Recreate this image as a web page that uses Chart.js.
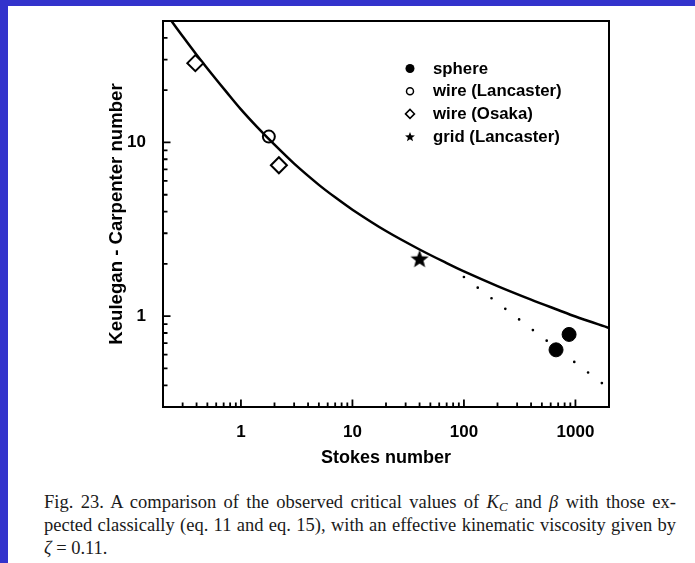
<!DOCTYPE html>
<html>
<head>
<meta charset="utf-8">
<script src="https://cdn.jsdelivr.net/npm/chart.js@4.4.1/dist/chart.umd.min.js"></script>
<style>
  html,body{margin:0;padding:0;}
  body{width:695px;height:563px;overflow:hidden;background:#3333cc;position:relative;}
  #white{position:absolute;left:8px;top:6px;right:0;bottom:0;background:#fff;}
  #wrap{position:absolute;left:0;top:0;width:695px;height:480px;}
  #cap{position:absolute;left:44px;top:491px;width:632px;font-family:"Liberation Serif","DejaVu Serif",serif;font-size:18.5px;line-height:23px;color:#1a1a1a;}
  #cap div{white-space:nowrap;}
  #cap .j{text-align:justify;text-align-last:justify;}
  sub{font-size:13px;vertical-align:-3px;line-height:0;}
</style>
</head>
<body>
<div id="white"></div>
<div id="wrap"><canvas id="c" width="695" height="480"></canvas></div>
<div id="cap">
  <div class="j">Fig. 23. A comparison of the observed critical values of <i>K<sub>C</sub></i> and <i>β</i> with those ex-</div>
  <div class="j">pected classically (eq. 11 and eq. 15), with an effective kinematic viscosity given by</div>
  <div><i>ζ</i> = 0.11.</div>
</div>
<script>
// ---- data ----
const sphereX = [670, 877];
const sphereY = [0.64, 0.785];
const wireLancX = [1.78];
const wireLancY = [10.8];
const wireOsakaX = [0.39, 2.19];
const wireOsakaY = [28.6, 7.39];
const gridLancX = [40];
const gridLancY = [2.14];
// solid "classical" curve
const curveX = [0.235, 0.3, 0.4, 0.55, 0.75, 1.0, 1.4, 2, 3, 5, 7, 10, 20, 40, 70, 100, 200, 400, 700, 1000, 2000];
const curveY = [50.6, 40.9, 32.0, 24.7, 19.35, 15.5, 12.25, 9.7, 7.55, 5.7, 4.83, 4.1, 3.09, 2.42, 2.02, 1.81, 1.49, 1.245, 1.085, 0.995, 0.855];
// dotted line
const dottedX = [100, 1750];
const dottedY = [1.68, 0.409];

const legendLabels = ['sphere', 'wire (Lancaster)', 'wire (Osaka)', 'grid (Lancaster)'];
const xTickLabels = [1, 10, 100, 1000];
const yTickLabels = [1, 10];
const xMinorTicks = [0.3,0.4,0.5,0.6,0.7,0.8,0.9, 2,3,4,5,6,7,8,9, 20,30,40,50,60,70,80,90, 200,300,400,500,600,700,800,900];
const yMinorTicks = [0.4,0.5,0.6,0.7,0.8,0.9, 2,3,4,5,6,7,8,9, 20,30,40];
const xRange = [0.2, 2000];
const yRange = [0.3, 50];
const xTitle = 'Stokes number';
const yTitle = 'Keulegan - Carpenter number';

const zip = (xs, ys) => xs.map((v, i) => ({x: v, y: ys[i]}));

function starPath(g, cx, cy, R, r) {
  g.beginPath();
  for (let i = 0; i < 10; i++) {
    const rad = (i % 2 === 0) ? R : r;
    const a = -Math.PI / 2 + i * Math.PI / 5;
    const px = cx + rad * Math.cos(a), py = cy + rad * Math.sin(a);
    if (i === 0) g.moveTo(px, py); else g.lineTo(px, py);
  }
  g.closePath();
}
function makeStar(R) {
  const size = Math.ceil(2 * R + 2);
  const c = document.createElement('canvas');
  c.width = size; c.height = size;
  const g = c.getContext('2d');
  g.fillStyle = '#000';
  starPath(g, size / 2, size / 2 + R * 0.08, R, R * 0.42);
  g.fill();
  return c;
}
const starImg = makeStar(9.6);

const FONT = '"Liberation Sans", Arial, sans-serif';

const decor = {
  id: 'decor',
  afterDatasetsDraw(chart) {
    const {ctx, chartArea: a, scales: {x, y}} = chart;
    ctx.save();
    ctx.strokeStyle = '#000';
    ctx.lineWidth = 1.8;
    ctx.beginPath();
    xMinorTicks.forEach(v => { const p = x.getPixelForValue(v); ctx.moveTo(p, a.bottom); ctx.lineTo(p, a.bottom - 4.5); });
    xTickLabels.forEach(v => { const p = x.getPixelForValue(v); ctx.moveTo(p, a.bottom); ctx.lineTo(p, a.bottom - 7.5); });
    yMinorTicks.forEach(v => { const p = y.getPixelForValue(v); ctx.moveTo(a.left, p); ctx.lineTo(a.left + 4.5, p); });
    yTickLabels.forEach(v => { const p = y.getPixelForValue(v); ctx.moveTo(a.left, p); ctx.lineTo(a.left + 7.5, p); });
    ctx.stroke();
    ctx.lineWidth = 2;
    ctx.strokeRect(a.left, a.top, a.right - a.left, a.bottom - a.top);

    // legend
    const mx = 410, tx = 433, y0 = 68.5, dy = 22.7;
    ctx.font = 'bold 16.8px ' + FONT;
    ctx.textBaseline = 'middle';
    ctx.textAlign = 'left';
    ctx.fillStyle = '#000';
    legendLabels.forEach((lab, i) => {
      const yy = y0 + i * dy;
      ctx.lineWidth = 1.5;
      if (i === 0) { ctx.beginPath(); ctx.arc(mx, yy, 4.5, 0, Math.PI * 2); ctx.fill(); }
      if (i === 1) { ctx.beginPath(); ctx.arc(mx, yy, 3.5, 0, Math.PI * 2); ctx.stroke(); }
      if (i === 2) { ctx.beginPath(); ctx.moveTo(mx - 4.5, yy); ctx.lineTo(mx, yy - 4.5); ctx.lineTo(mx + 4.5, yy); ctx.lineTo(mx, yy + 4.5); ctx.closePath(); ctx.stroke(); }
      if (i === 3) { starPath(ctx, mx, yy + 0.5, 5.2, 2.2); ctx.fill(); }
      ctx.fillText(lab, tx, yy + 0.5);
    });
    ctx.restore();
  }
};

new Chart(document.getElementById('c'), {
  type: 'scatter',
  data: {
    datasets: [
      {label: legendLabels[0], data: zip(sphereX, sphereY), pointStyle: 'circle', pointRadius: 7, backgroundColor: '#000', borderColor: '#000', borderWidth: 1, order: 0},
      {label: legendLabels[1], data: zip(wireLancX, wireLancY), pointStyle: 'circle', pointRadius: 6, backgroundColor: 'rgba(0,0,0,0)', borderColor: '#000', borderWidth: 2, order: 0},
      {label: legendLabels[2], data: zip(wireOsakaX, wireOsakaY), pointStyle: 'rectRot', pointRadius: 8, backgroundColor: '#fff', borderColor: '#000', borderWidth: 2, order: 0},
      {label: legendLabels[3], data: zip(gridLancX, gridLancY), pointStyle: starImg, pointRadius: 9, order: 0},
      {label: 'classical', data: zip(curveX, curveY), showLine: true, pointRadius: 0, borderColor: '#000', borderWidth: 2.5, tension: 0.3, order: 1},
      {label: 'dotted', data: zip(dottedX, dottedY), showLine: true, pointRadius: 0, borderColor: '#000', borderWidth: 2.7, borderDash: [0, 17.4], borderCapStyle: 'round', order: 1}
    ]
  },
  options: {
    responsive: false,
    animation: false,
    devicePixelRatio: 1,
    layout: {padding: {left: 0, top: 21, right: 86, bottom: 0}},
    plugins: {legend: {display: false}, tooltip: {enabled: false}},
    scales: {
      x: {
        type: 'logarithmic', min: xRange[0], max: xRange[1],
        grid: {display: false}, border: {display: false},
        afterBuildTicks: s => { s.ticks = xTickLabels.map(v => ({value: v})); },
        afterFit: s => { s.height = 73; },
        ticks: {autoSkip: false, maxRotation: 0, padding: 7, color: '#000', font: {family: FONT, size: 17, weight: 'bold'}, callback: v => String(v)},
        title: {display: true, text: xTitle, color: '#000', font: {family: FONT, size: 18, weight: 'bold'}, padding: {top: 0, bottom: 11}}
      },
      y: {
        type: 'logarithmic', min: yRange[0], max: yRange[1],
        grid: {display: false}, border: {display: false},
        afterBuildTicks: s => { s.ticks = yTickLabels.map(v => ({value: v})); },
        afterFit: s => { s.width = 163; },
        ticks: {autoSkip: false, padding: 9, color: '#000', font: {family: FONT, size: 17, weight: 'bold'}, callback: v => String(v)},
        title: {display: true, text: yTitle, color: '#000', font: {family: FONT, size: 18.6, weight: 'bold'}, padding: {top: 106, bottom: 0}}
      }
    }
  },
  plugins: [decor]
});

// keep caption lines within the text block width
document.querySelectorAll('#cap .j').forEach(el => {
  let fs = 18.5;
  const w = 632;
  const probe = document.createElement('span');
  probe.innerHTML = el.innerHTML;
  probe.style.whiteSpace = 'nowrap';
  probe.style.visibility = 'hidden';
  probe.style.position = 'absolute';
  document.getElementById('cap').appendChild(probe);
  while (fs > 12) {
    probe.style.fontSize = fs + 'px';
    if (probe.getBoundingClientRect().width <= w - 8) break;
    fs -= 0.25;
  }
  probe.remove();
  el.style.fontSize = fs + 'px';
});
</script>
</body>
</html>
